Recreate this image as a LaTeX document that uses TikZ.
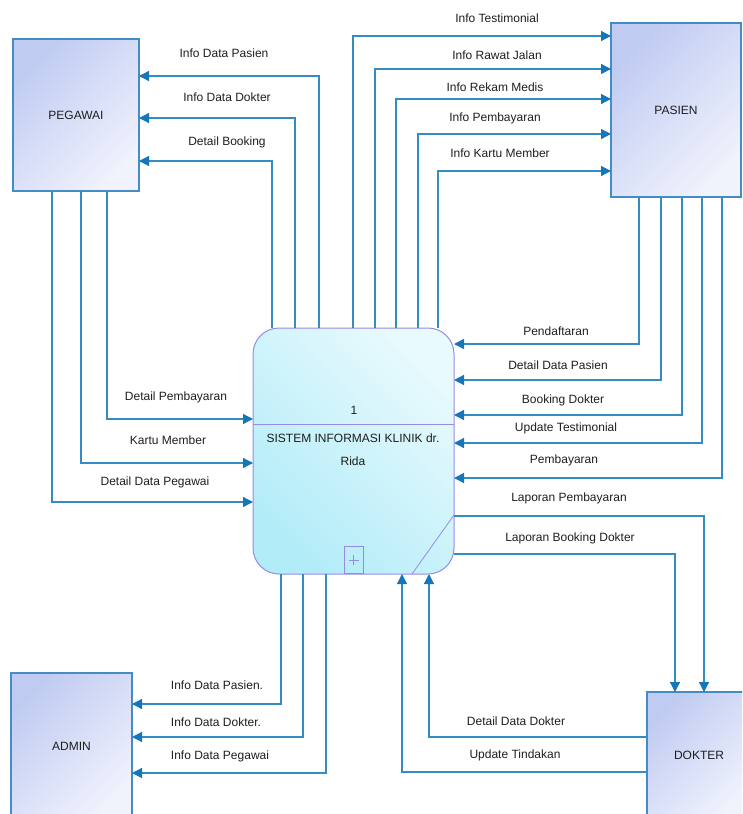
\documentclass[tikz,border=0pt]{standalone}
\usepackage{fontspec}
\setmainfont{Liberation Sans}
\usetikzlibrary{arrows.meta,calc}
\definecolor{flowc}{RGB}{52,140,192}
\definecolor{tipc}{RGB}{22,118,186}
\definecolor{entb}{RGB}{70,140,196}
\definecolor{entA}{RGB}{192,203,242}
\definecolor{entB}{RGB}{240,242,252}
\definecolor{procb}{RGB}{150,140,228}
\definecolor{procA}{RGB}{232,250,253}
\definecolor{procB}{RGB}{178,236,248}
\definecolor{txt}{RGB}{30,30,30}
\tikzset{
  entity/.style={draw=entb, line width=1.3pt, top color=entA, bottom color=entB, shading angle=45,
    inner sep=0pt, outer sep=0pt, font=\fontsize{12}{14}\selectfont, text=txt},
  procbox/.style={draw=procb, line width=1pt, rounded corners=26pt, top color=procA, bottom color=procB,
    shading angle=-45, inner sep=0pt, outer sep=0pt},
  flow/.style={draw=flowc, line width=1.3pt, -{Triangle[length=10pt,width=10pt,fill=tipc,color=tipc]}},
  lbl/.style={font=\fontsize{12}{14}\selectfont, text=txt, inner sep=0pt},
}
\begin{document}
\begin{tikzpicture}[x=1pt,y=-1pt]
\useasboundingbox (0,0) rectangle (742,814);
\begin{scope}
\clip (0,0) rectangle (742,814);
% entities
\node[entity, minimum width=126pt, minimum height=152pt] (peg) at (76,115) {PEGAWAI};
\node[entity, minimum width=130pt, minimum height=174pt] (pas) at (676,110) {PASIEN};
\node[entity, minimum width=121pt, minimum height=146pt] (adm) at (71.5,746) {ADMIN};
\node[entity, minimum width=104pt, minimum height=126pt] (dok) at (699,755) {DOKTER};
% process
\node[procbox, minimum width=201pt, minimum height=246pt] (proc) at (353.5,451) {};
\draw[procb, line width=1pt] (proc.west |- 0,424) -- (proc.east |- 0,424);
\draw[procb, line width=0.8pt] (proc.east |- 0,515) -- (proc.south -| 412,0);
\node[draw=procb, line width=0.8pt, minimum width=19pt, minimum height=27pt, inner sep=0pt, anchor=south] (plus) at (353.5,574) {};
\draw[procb, line width=0.8pt] ([xshift=-5pt]plus.center) -- ([xshift=5pt]plus.center);
\draw[procb, line width=0.8pt] ([yshift=-5pt]plus.center) -- ([yshift=5pt]plus.center);
\node[lbl] (pnum) at (354,410) {1};
\node[lbl] (pname1) at (353,438) {SISTEM INFORMASI KLINIK dr.};
\node[lbl] (pname2) at (353,461) {Rida};

% proc -> pegawai
\draw[flow] (proc.north -| 319,0) |- (peg.east |- 0,76);
\draw[flow] (proc.north -| 295,0) |- (peg.east |- 0,118);
\draw[flow] (proc.north -| 272,0) |- (peg.east |- 0,161);
\node[lbl] (l1) at (224,53) {Info Data Pasien};
\node[lbl] (l2) at (227,97) {Info Data Dokter};
\node[lbl] (l3) at (227,142) {Detail Booking};
% pegawai -> proc
\draw[flow] (peg.south -| 107,0) |- (proc.west |- 0,419);
\draw[flow] (peg.south -| 81,0) |- (proc.west |- 0,463);
\draw[flow] (peg.south -| 52,0) |- (proc.west |- 0,502);
\node[lbl] (l4) at (176,397) {Detail Pembayaran};
\node[lbl] (l5) at (168,440) {Kartu Member};
\node[lbl] (l6) at (155,482) {Detail Data Pegawai};
% proc -> pasien
\draw[flow] (proc.north -| 353,0) |- (pas.west |- 0,36);
\draw[flow] (proc.north -| 375,0) |- (pas.west |- 0,69);
\draw[flow] (proc.north -| 396,0) |- (pas.west |- 0,99);
\draw[flow] (proc.north -| 418,0) |- (pas.west |- 0,134);
\draw[flow] (proc.north -| 438,0) |- (pas.west |- 0,171);
\node[lbl] (l7) at (497,18) {Info Testimonial};
\node[lbl] (l8) at (497,55) {Info Rawat Jalan};
\node[lbl] (l9) at (495,87) {Info Rekam Medis};
\node[lbl] (l10) at (495,118) {Info Pembayaran};
\node[lbl] (l11) at (500,153) {Info Kartu Member};
% pasien -> proc
\draw[flow] (pas.south -| 639,0) |- (proc.east |- 0,344);
\draw[flow] (pas.south -| 661,0) |- (proc.east |- 0,380);
\draw[flow] (pas.south -| 682,0) |- (proc.east |- 0,415);
\draw[flow] (pas.south -| 702,0) |- (proc.east |- 0,443);
\draw[flow] (pas.south -| 722,0) |- (proc.east |- 0,478);
\node[lbl] (l12) at (556,331) {Pendaftaran};
\node[lbl] (l13) at (558,365) {Detail Data Pasien};
\node[lbl] (l14) at (563,400) {Booking Dokter};
\node[lbl] (l15) at (566,428) {Update Testimonial};
\node[lbl] (l16) at (564,460) {Pembayaran};
% proc -> dokter
\draw[flow] (proc.east |- 0,516) -| (dok.north -| 704,0);
\draw[flow] (proc.east |- 0,554) -| (dok.north -| 675,0);
\node[lbl] (l17) at (569,498) {Laporan Pembayaran};
\node[lbl] (l18) at (570,538) {Laporan Booking Dokter};
% dokter -> proc
\draw[flow] (dok.west |- 0,737) -| (proc.south -| 429,0);
\draw[flow] (dok.west |- 0,772) -| (proc.south -| 402,0);
\node[lbl] (l19) at (516,721) {Detail Data Dokter};
\node[lbl] (l20) at (515,755) {Update Tindakan};
% proc -> admin
\draw[flow] (proc.south -| 281,0) |- (adm.east |- 0,704);
\draw[flow] (proc.south -| 303,0) |- (adm.east |- 0,737);
\draw[flow] (proc.south -| 326,0) |- (adm.east |- 0,773);
\node[lbl] (l21) at (217,685) {Info Data Pasien.};
\node[lbl] (l22) at (216,722) {Info Data Dokter.};
\node[lbl] (l23) at (220,756) {Info Data Pegawai};
\end{scope}
\end{tikzpicture}
\end{document}
